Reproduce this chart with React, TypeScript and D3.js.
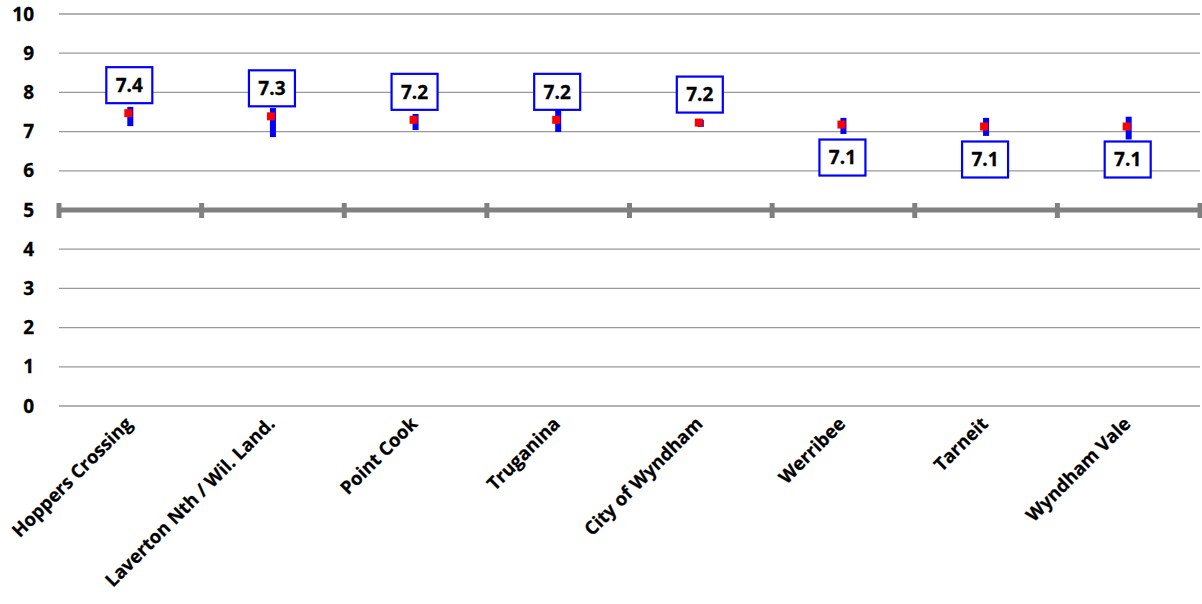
import React from "react";
import * as d3 from "d3";

const categories = [
  "Hoppers Crossing",
  "Laverton Nth / Wil. Land.",
  "Point Cook",
  "Truganina",
  "City of Wyndham",
  "Werribee",
  "Tarneit",
  "Wyndham Vale",
];
const means = [7.47, 7.39, 7.3, 7.3, 7.23, 7.18, 7.13, 7.13];
const upper = [7.63, 7.6, 7.45, 7.55, 7.3, 7.35, 7.35, 7.38];
const lower = [7.14, 6.86, 7.04, 6.99, 7.12, 6.94, 6.89, 6.8];
const labelValues = ["7.4", "7.3", "7.2", "7.2", "7.2", "7.1", "7.1", "7.1"];
const labelAbove = [true, true, true, true, true, false, false, false];
const yTicks = [0, 1, 2, 3, 4, 5, 6, 7, 8, 9, 10];
const referenceValue = 5;

const W = 1202;
const H = 604;
const left = 59;
const right = 1200;
const top = 14;
const bottom = 406;
const FONT = "'Open Sans', 'DejaVu Sans', sans-serif";

export default function App() {
  const x = d3.scaleBand<string>().domain(categories).range([left, right]).padding(0);
  const y = d3.scaleLinear().domain([0, 10]).range([bottom, top]);
  const bw = x.bandwidth();
  const boundaries = d3.range(categories.length + 1).map((i) => left + i * bw);

  return (
    <svg
      width={W}
      height={H}
      style={{ position: "absolute", left: 0, top: 0, background: "#fff" }}
      fontFamily={FONT}
    >
      {yTicks.map((t) => (
        <g key={t}>
          <line x1={left} x2={right} y1={y(t)} y2={y(t)} stroke="#999" strokeWidth={1.3} />
          <text
            x={34}
            y={y(t)}
            dy="0.35em"
            textAnchor="end"
            fontSize={19}
            fontWeight="bold"
            fill="#000"
            stroke="#000"
            strokeWidth={0.3}
          >
            {t}
          </text>
        </g>
      ))}
      <line
        x1={left}
        x2={right}
        y1={y(referenceValue)}
        y2={y(referenceValue)}
        stroke="#808080"
        strokeWidth={5}
      />
      {boundaries.map((bx, i) => (
        <line
          key={i}
          x1={bx}
          x2={bx}
          y1={y(referenceValue) - 7}
          y2={y(referenceValue) + 8}
          stroke="#808080"
          strokeWidth={5}
        />
      ))}
      {categories.map((c, i) => {
        const cx = (x(c) as number) + bw / 2;
        return (
          <g key={c}>
            <rect
              x={cx - 3}
              y={y(upper[i])}
              width={6}
              height={y(lower[i]) - y(upper[i])}
              fill="#0000FF"
            />
            <rect x={cx - 6} y={y(means[i]) - 4} width={8} height={8} fill="#FF0000" />
          </g>
        );
      })}
      {categories.map((c, i) => {
        const cx = (x(c) as number) + bw / 2 - 1;
        const cy = y(means[i]) + (labelAbove[i] ? -28 : 33);
        return (
          <g key={"lbl" + c}>
            <rect
              x={cx - 23}
              y={cy - 18}
              width={46}
              height={36}
              fill="#fff"
              stroke="#0000FF"
              strokeWidth={2.2}
            />
            <text
              x={cx}
              y={cy}
              dy="0.36em"
              textAnchor="middle"
              fontSize={19}
              fontWeight="bold"
              fill="#000"
              stroke="#000"
              strokeWidth={0.3}
            >
              {labelValues[i]}
            </text>
          </g>
        );
      })}
      {categories.map((c) => {
        const cx = (x(c) as number) + bw / 2 + 3;
        return (
          <text
            key={"cat" + c}
            transform={`translate(${cx},${425}) rotate(-45)`}
            textAnchor="end"
            fontSize={18.5}
            fontWeight="bold"
            fill="#000"
            stroke="#000"
            strokeWidth={0.25}
          >
            {c}
          </text>
        );
      })}
    </svg>
  );
}
